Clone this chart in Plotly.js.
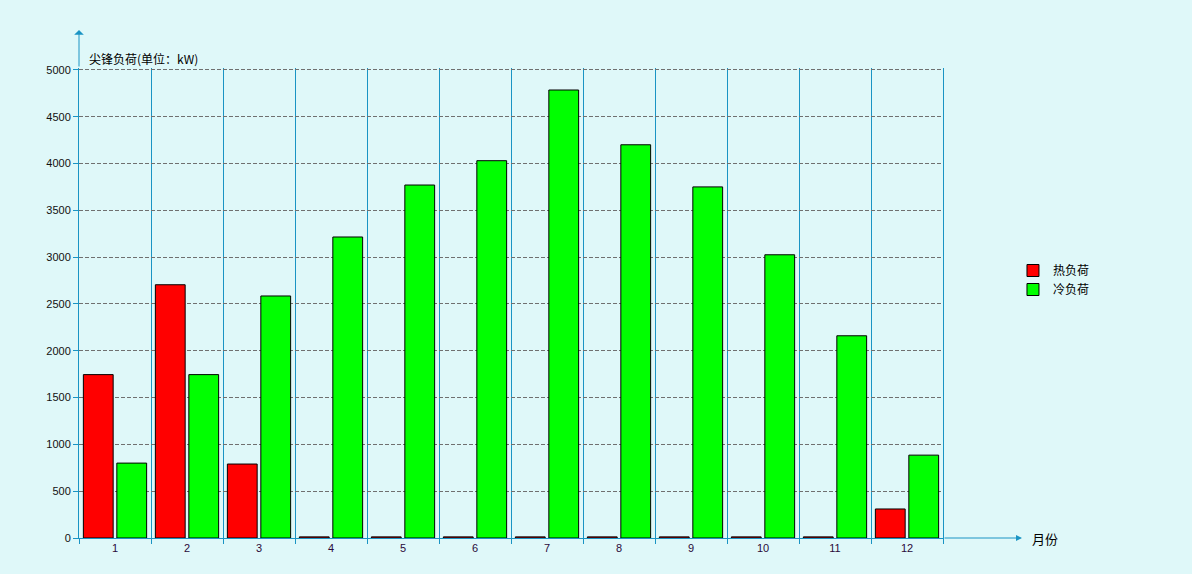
<!DOCTYPE html>
<html>
<head>
<meta charset="utf-8">
<script src="https://cdn.plot.ly/plotly-3.0.1.min.js"></script>
<style>
html,body{margin:0;padding:0;background:#dff8f9;}
#chart{width:1192px;height:574px;}
</style>
</head>
<body>
<div id="chart"></div>
<script>
const months = ['1','2','3','4','5','6','7','8','9','10','11','12'];
const heatLoad = [1745, 2705, 790, 0, 0, 0, 0, 0, 0, 0, 0, 310];
const coolLoad = [800, 1745, 2585, 3215, 3770, 4030, 4785, 4200, 3750, 3025, 2160, 885];
const seriesNames = ['热负荷', '冷负荷'];
const yTitle = '尖锋负荷(单位：kW)';
const xTitle = '月份';

const axisBlue = '#1a94c4';
const bg = '#dff8f9';
const cjk = '"Noto Sans CJK SC", "Liberation Sans", sans-serif';

// zero-valued bars are drawn as a thin outline at the baseline, as in the reference
const heatShown = heatLoad.map(v => v === 0 ? 12 : v);

const traces = [
  {type:'bar', x: months, y: heatShown, name: seriesNames[0],
   marker:{color:'#ff0000', line:{color:'#000000', width:1}}},
  {type:'bar', x: months, y: coolLoad, name: seriesNames[1],
   marker:{color:'#00ff00', line:{color:'#000000', width:1}}}
];

const plotH = 470;
const layout = {
  width:1192, height:574,
  paper_bgcolor:bg, plot_bgcolor:bg,
  margin:{l:79, r:249, t:68, b:36},
  barmode:'group', bargap:0.07, bargroupgap:0.11,
  font:{family:cjk, size:11, color:'#111'},
  showlegend:true,
  legend:{x:1.081, xanchor:'left', y:0.6, yanchor:'top', bgcolor:'rgba(0,0,0,0)',
          font:{family:cjk, size:12, color:'#000'}, itemwidth:30, tracegroupgap:0},
  xaxis:{type:'category', tickson:'boundaries', showgrid:true, gridcolor:axisBlue, gridwidth:1,
         showline:true, linecolor:axisBlue, linewidth:1,
         ticks:'outside', ticklen:5, tickcolor:axisBlue,
         tickfont:{family:'"Liberation Sans", Arial, sans-serif', size:11, color:'#2a0a3a'},
         fixedrange:true},
  yaxis:{range:[0,5020], dtick:500, tick0:0, showgrid:true, gridcolor:'#707070', griddash:'4px,2px', gridwidth:1,
         zeroline:false, showline:true, mirror:true, linecolor:axisBlue, linewidth:1,
         ticks:'outside', ticklen:5, tickcolor:axisBlue,
         tickfont:{family:'"Liberation Sans", Arial, sans-serif', size:11, color:'#111'},
         fixedrange:true},
  annotations:[
    {xref:'paper', yref:'paper', x:0, y:1+38/plotH, ax:0, ay:38, axref:'pixel', ayref:'pixel',
     showarrow:true, arrowhead:1, arrowsize:1.6, arrowwidth:1, arrowcolor:axisBlue, text:''},
    {xref:'paper', yref:'paper', x:1+79/864, y:0, ax:-79, ay:0,
     showarrow:true, arrowhead:2, arrowsize:1.2, arrowwidth:1, arrowcolor:axisBlue, text:''},
    {xref:'paper', yref:'paper', x:8/864, y:1+10/plotH, xanchor:'left', yanchor:'middle',
     showarrow:false, text:yTitle, font:{family:cjk, size:12, color:'#000'}},
    {xref:'paper', yref:'paper', x:(1030-79)/864, y:0, xanchor:'left', yanchor:'middle',
     showarrow:false, text:xTitle, font:{family:cjk, size:13, color:'#000'}}
  ]
};

Plotly.newPlot('chart', traces, layout, {displayModeBar:false, staticPlot:true});
</script>
</body>
</html>
